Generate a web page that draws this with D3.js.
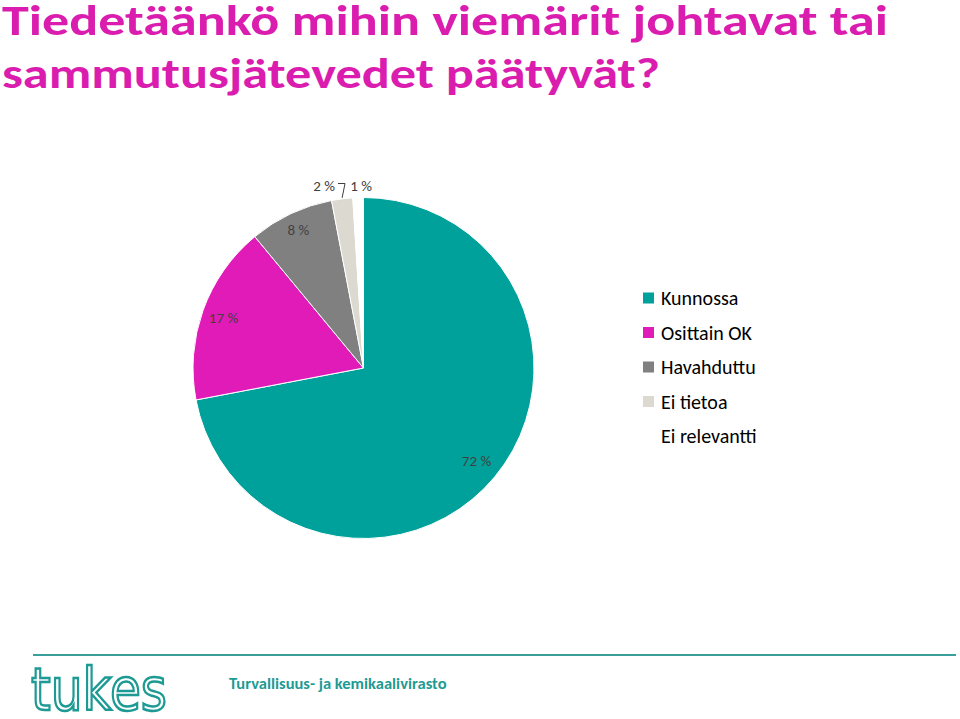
<!DOCTYPE html>
<html><head><meta charset="utf-8">
<script src="https://cdn.jsdelivr.net/npm/d3@7"></script>
<style>body{margin:0;background:#fff;}svg{display:block;}</style>
</head><body>
<svg id="c" width="960" height="719"></svg>
<script>
const categories = ["Kunnossa","Osittain OK","Havahduttu","Ei tietoa","Ei relevantti"];
const values = [72,17,8,2,1];
const labels = ["72 %","17 %","8 %","2 %","1 %"];
const colors = ["#00A19A","#E01BB7","#808080","#DCD9D1","#FFFFFF"];
const titleLines = ["Tiedetäänkö mihin viemärit johtavat tai","sammutusjätevedet päätyvät?"];
const titleWidths = [886, 658];

const svg = d3.select("#c");
const font = "Carlito, Calibri, Lato, sans-serif";

svg.selectAll("text.title").data(titleLines).join("text")
  .attr("class","title")
  .attr("x",2).attr("y",(d,i)=>35+i*53)
  .attr("font-family",font).attr("font-weight","bold").attr("font-size",43)
  .attr("textLength",(d,i)=>titleWidths[i]).attr("lengthAdjust","spacingAndGlyphs")
  .attr("fill","#DA1DAE").text(d=>d);

const cx=363.5, cy=368, r=170.5;
const pie = d3.pie().sort(null).value(d=>d)(values);
const arc = d3.arc().innerRadius(0).outerRadius(r);
const g = svg.append("g").attr("transform",`translate(${cx},${cy})`);
g.selectAll("path").data(pie).join("path")
  .attr("d",arc).attr("fill",(d,i)=>colors[i]).attr("stroke","#fff").attr("stroke-width",1);

// labels inside
const labR = [0.86, 0.873, 0.897];
const pos = pie.slice(0,3).map((d,i)=>d3.arc().innerRadius(r*labR[i]).outerRadius(r*labR[i]).centroid(d));
g.selectAll("text.lab").data(pie.slice(0,3)).join("text")
  .attr("class","lab")
  .attr("x",(d,i)=>pos[i][0]).attr("y",(d,i)=>pos[i][1]+5)
  .attr("text-anchor","middle").attr("font-family",font).attr("font-size",15)
  .attr("fill","#404040").text((d,i)=>labels[i]);
// outside small labels
svg.append("text").attr("x",324).attr("y",191).attr("text-anchor","middle")
  .attr("font-family",font).attr("font-size",15).attr("fill","#404040").text(labels[3]);
svg.append("text").attr("x",361).attr("y",191).attr("text-anchor","middle")
  .attr("font-family",font).attr("font-size",15).attr("fill","#404040").text(labels[4]);
const c3 = d3.arc().innerRadius(r).outerRadius(r).centroid(pie[3]);
svg.append("path").attr("d",`M338,183.5 L345,183.5 L${cx+c3[0]},${cy+c3[1]-1}`)
  .attr("fill","none").attr("stroke","#404040").attr("stroke-width",1);

// legend
const lg = svg.append("g");
categories.forEach((c,i)=>{
  const y = 298+i*34.5;
  if(i<4) lg.append("rect").attr("x",643).attr("y",y-5.5).attr("width",11).attr("height",11).attr("fill",colors[i]);
  lg.append("text").attr("x",661).attr("y",y+7).attr("font-family",font).attr("font-size",20)
    .attr("fill","#000").text(c);
});

// footer
svg.append("line").attr("x1",33).attr("x2",956).attr("y1",655).attr("y2",655)
  .attr("stroke","#3A9E9A").attr("stroke-width",2);
svg.append("text").attr("x",229).attr("y",689).attr("font-family",font).attr("font-weight","bold")
  .attr("font-size",16.5).attr("fill","#1E9A94").text("Turvallisuus- ja kemikaalivirasto");
svg.append("text").attr("x",31).attr("y",710).attr("font-family","'DejaVu Sans', sans-serif")
  .attr("font-size",58).attr("fill","#fff").attr("stroke","#1E9A94").attr("stroke-width",2.5)
  .attr("textLength",136).attr("lengthAdjust","spacingAndGlyphs").text("tukes");
</script>
</body></html>
